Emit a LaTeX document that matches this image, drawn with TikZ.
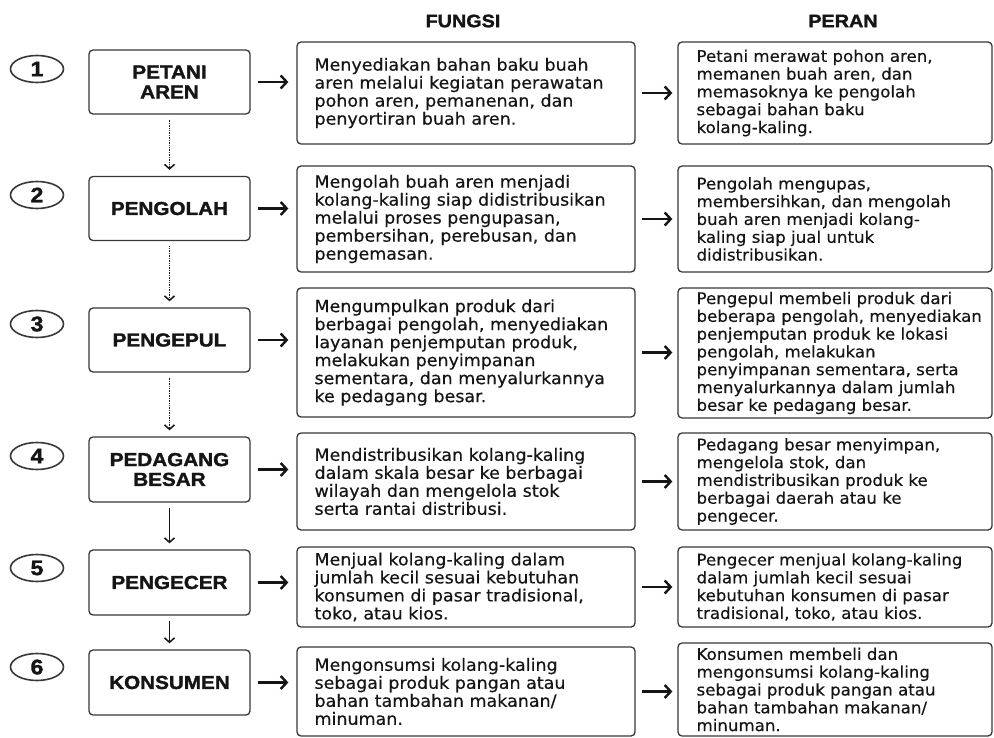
\documentclass[tikz,border=0pt]{standalone}
\usepackage{fontspec}
\setmainfont{DejaVu Sans}
\newfontfamily\bodyfont[FakeBold=0.4,FakeStretch=1.04]{DejaVu Sans}
\newfontfamily\lblfont[FakeStretch=1.1,FakeBold=1.6]{Liberation Sans Bold}
\usetikzlibrary{arrows.meta,shapes.geometric}
\definecolor{ink}{HTML}{151515}
\definecolor{edge}{HTML}{383838}
\begin{document}
\begin{tikzpicture}[x=1pt,y=-1pt,
  box/.style={draw=edge, line width=1.3pt, rounded corners=4pt, fill=white, inner sep=0pt},
  lbox/.style={box, minimum width=161pt, minimum height=64pt, align=center, text=ink,
    font=\lblfont\fontsize{18.8}{19.8}\selectfont},
  mbox/.style={box, minimum width=338pt},
  rbox/.style={box, minimum width=314pt},
  txt/.style={anchor=west, align=left, inner sep=0pt, text=ink,
    font=\bodyfont\fontsize{16.8}{18}\selectfont},
  rtxt/.style={txt, font=\bodyfont\fontsize{16}{17.8}\selectfont},
  hdr/.style={text=ink, inner sep=0pt, font=\lblfont\fontsize{18}{19}\selectfont},
  num/.style={draw=edge, line width=1.6pt, ellipse, minimum width=53pt, minimum height=27pt,
    inner sep=0pt, text=ink, font=\lblfont\fontsize{21}{22}\selectfont},
  harr/.style={draw=ink, line width=2.4pt, -{Straight Barb[length=6pt,width=13pt,line width=2.4pt]}},
  varr/.style={draw=ink, line width=1.2pt, -{Straight Barb[length=4.5pt,width=10pt,line width=1.5pt]},
    shorten <=5pt, shorten >=6pt},
  dotarr/.style={varr, dash pattern=on 1pt off 0.7pt}
]
\useasboundingbox (0,0) rectangle (994,738);
\fill[white] (0,0) rectangle (994,738);

% headers
\node[hdr] (hf) at (463,21) {FUNGSI};
\node[hdr] (hp) at (843,21) {PERAN};

% number ellipses
\node[num] (n1) at (37,69) {1};
\node[num] (n2) at (37,195) {2};
\node[num] (n3) at (37,324) {3};
\node[num] (n4) at (37,456) {4};
\node[num] (n5) at (37,568) {5};
\node[num] (n6) at (37,667) {6};

% left boxes
\node[lbox] (L1) at (169.5,82) {PETANI\\AREN};
\node[lbox] (L2) at (169.5,208.5) {PENGOLAH};
\node[lbox] (L3) at (169.5,340) {PENGEPUL};
\node[lbox, minimum height=65pt] (L4) at (169.5,469.5) {PEDAGANG\\BESAR};
\node[lbox, minimum height=65pt] (L5) at (169.5,582.5) {PENGECER};
\node[lbox, minimum height=65pt] (L6) at (169.5,682.5) {KONSUMEN};

% middle boxes
\node[mbox, minimum height=102pt] (M1) at (466,93) {};
\node[mbox, minimum height=106pt] (M2) at (466,219) {};
\node[mbox, minimum height=129pt] (M3) at (466,352.5) {};
\node[mbox, minimum height=97pt] (M4) at (466,481.5) {};
\node[mbox, minimum height=80pt] (M5) at (466,587) {};
\node[mbox, minimum height=89pt] (M6) at (466,691.5) {};

% right boxes
\node[rbox, minimum height=102pt] (R1) at (835,93) {};
\node[rbox, minimum height=106pt] (R2) at (835,219) {};
\node[rbox, minimum height=130pt] (R3) at (835,353) {};
\node[rbox, minimum height=97pt] (R4) at (835,481.5) {};
\node[rbox, minimum height=80pt] (R5) at (835,587) {};
\node[rbox, minimum height=93pt] (R6) at (835,689.5) {};

% middle texts
\node[txt] (M1t) at ([xshift=18pt]M1.west) {Menyediakan bahan baku buah\\aren melalui kegiatan perawatan\\pohon aren, pemanenan, dan\\penyortiran buah aren.};
\node[txt] (M2t) at ([xshift=18pt]M2.west) {Mengolah buah aren menjadi\\kolang-kaling siap didistribusikan\\melalui proses pengupasan,\\pembersihan, perebusan, dan\\pengemasan.};
\node[txt] (M3t) at ([xshift=18pt]M3.west) {Mengumpulkan produk dari\\berbagai pengolah, menyediakan\\layanan penjemputan produk,\\melakukan penyimpanan\\sementara, dan menyalurkannya\\ke pedagang besar.};
\node[txt] (M4t) at ([xshift=18pt]M4.west) {Mendistribusikan kolang-kaling\\dalam skala besar ke berbagai\\wilayah dan mengelola stok\\serta rantai distribusi.};
\node[txt] (M5t) at ([xshift=18pt]M5.west) {Menjual kolang-kaling dalam\\jumlah kecil sesuai kebutuhan\\konsumen di pasar tradisional,\\toko, atau kios.};
\node[txt] (M6t) at ([xshift=18pt]M6.west) {Mengonsumsi kolang-kaling\\sebagai produk pangan atau\\bahan tambahan makanan/\\minuman.};

% right texts
\node[rtxt] (R1t) at ([xshift=19pt]R1.west) {Petani merawat pohon aren,\\memanen buah aren, dan\\memasoknya ke pengolah\\sebagai bahan baku\\kolang-kaling.};
\node[rtxt] (R2t) at ([xshift=19pt]R2.west) {Pengolah mengupas,\\membersihkan, dan mengolah\\buah aren menjadi kolang-\\kaling siap jual untuk\\didistribusikan.};
\node[rtxt] (R3t) at ([xshift=19pt]R3.west) {Pengepul membeli produk dari\\beberapa pengolah, menyediakan\\penjemputan produk ke lokasi\\pengolah, melakukan\\penyimpanan sementara, serta\\menyalurkannya dalam jumlah\\besar ke pedagang besar.};
\node[rtxt] (R4t) at ([xshift=19pt]R4.west) {Pedagang besar menyimpan,\\mengelola stok, dan\\mendistribusikan produk ke\\berbagai daerah atau ke\\pengecer.};
\node[rtxt] (R5t) at ([xshift=19pt]R5.west) {Pengecer menjual kolang-kaling\\dalam jumlah kecil sesuai\\kebutuhan konsumen di pasar\\tradisional, toko, atau kios.};
\node[rtxt] (R6t) at ([xshift=19pt]R6.west) {Konsumen membeli dan\\mengonsumsi kolang-kaling\\sebagai produk pangan atau\\bahan tambahan makanan/\\minuman.};

% horizontal arrows
\foreach \i in {1,...,6}{
  \draw[harr, shorten <=7pt, shorten >=8pt] (L\i.east) -- (L\i.east -| M\i.west);
  \draw[harr, shorten <=6pt, shorten >=5pt] (M\i.east) -- (M\i.east -| R\i.west);
}

% vertical arrows
\draw[dotarr] (L1.south) -- (L2.north);
\draw[dotarr] (L2.south) -- (L3.north);
\draw[dotarr] (L3.south) -- (L4.north);
\draw[varr] (L4.south) -- (L5.north);
\draw[varr] (L5.south) -- (L6.north);
\end{tikzpicture}
\end{document}
